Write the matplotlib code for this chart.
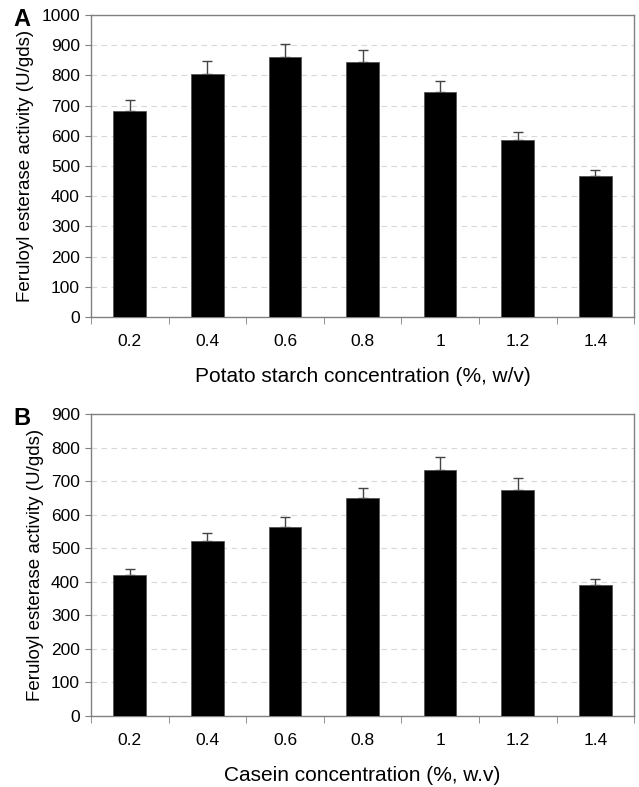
import matplotlib
matplotlib.use('Agg')
import matplotlib.pyplot as plt
import numpy as np

plt.rcParams['font.family'] = ['Liberation Sans', 'DejaVu Sans']

concs = ['0.2', '0.4', '0.6', '0.8', '1', '1.2', '1.4']

starch_vals = [683, 805, 862, 844, 744, 587, 467]
starch_err = [37, 42, 42, 41, 38, 26, 20]

casein_vals = [419, 522, 563, 650, 734, 675, 389]
casein_err = [19, 23, 29, 31, 37, 33, 19]

ylabel = 'Feruloyl esterase activity (U/gds)'


def draw_panel(ax, vals, errs, ymax, xlabel, letter):
    x = np.arange(len(concs))
    ax.bar(x, vals, width=0.42, color='black', edgecolor='#555555', linewidth=0.6, zorder=3)
    ax.errorbar(x, vals, yerr=[np.zeros(len(errs)), errs], fmt='none', ecolor='#444444',
                elinewidth=1.0, capsize=3.5, capthick=1.0, zorder=2)
    ax.set_xlim(-0.5, len(concs) - 0.5)
    ax.set_ylim(0, ymax)
    ax.set_yticks(np.arange(0, ymax + 1, 100))
    ax.yaxis.grid(True, linestyle=(0, (5, 4)), color='#d8d8d8', linewidth=0.8, zorder=0)
    ax.set_axisbelow(True)
    ax.set_xticks(x)
    ax.set_xticklabels(concs)
    ax.set_xticks(np.arange(-0.5, len(concs)), minor=True)
    ax.tick_params(axis='x', which='major', length=0, pad=12, labelsize=12.5)
    ax.tick_params(axis='x', which='minor', length=5, color='#808080', direction='out')
    ax.tick_params(axis='y', length=4, color='#808080', labelsize=12.5, pad=4)
    for s in ax.spines.values():
        s.set_color('#808080')
        s.set_linewidth(1.0)
    ax.set_xlabel(xlabel, fontsize=15, labelpad=13)
    ax.set_ylabel(ylabel, fontsize=13.5, labelpad=5)
    ax.text(-0.128, 0.985, letter, transform=ax.transAxes, fontsize=17, fontweight='bold',
            ha='center', va='center')


fig = plt.figure(figsize=(6.39, 7.87), dpi=100)
ax1 = fig.add_axes([0.1424, 0.5972, 0.850, 0.3837])
ax2 = fig.add_axes([0.1424, 0.0902, 0.850, 0.3837])

draw_panel(ax1, starch_vals, starch_err, 1000, 'Potato starch concentration (%, w/v)', 'A')
draw_panel(ax2, casein_vals, casein_err, 900, 'Casein concentration (%, w.v)', 'B')

fig.savefig('out.png', dpi=100)
